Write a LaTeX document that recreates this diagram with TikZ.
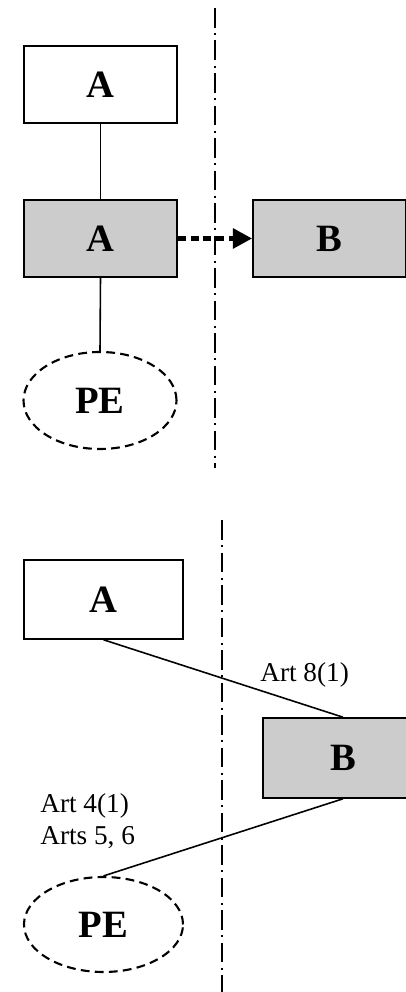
\documentclass[tikz,border=0pt]{standalone}
\usepackage{fontspec}
\setmainfont{Liberation Serif}
\usetikzlibrary{arrows.meta,shapes.geometric}

\tikzset{
  party/.style={draw,line width=0.9pt,minimum width=3.06cm,minimum height=1.54cm,
    font=\fontsize{22}{24}\selectfont\bfseries,inner sep=0pt},
  hostbox/.style={party,fill=black!20},
  pebox/.style={ellipse,draw,dashed,dash pattern=on 5pt off 3pt,line width=1.2pt,
    minimum width=3.06cm,minimum height=1.94cm,font=\fontsize{22}{24}\selectfont\bfseries,inner sep=0pt},
  border/.style={line width=1.4pt,dash pattern=on 11.3pt off 3pt on 1.2pt off 3pt},
  link/.style={line width=0.9pt},
  artlabel/.style={font=\fontsize{15.5}{18.5}\selectfont,align=left,inner sep=0pt}
}

\begin{document}
\begin{tikzpicture}
\useasboundingbox (0,0) rectangle (8.1,19.84);
% upper case: PE of A in its own state
\draw[border] (4.30,19.68) -- (4.30,10.48);
\node[party] (a1) at (2.01,18.15) {A};
\node[hostbox] (a2) at (2.01,15.07) {A};
\node[hostbox] (b1) at (6.59,15.07) {B};
\node[pebox] (pe1) at (2.00,11.83) {PE};
\draw[link] (a1) -- (a2);
\draw[link] (a2.south) -- (pe1.north);
\draw[line width=3pt,dash pattern=on 4.5pt off 2.8pt,-{Triangle[length=11pt,width=11pt]}] (a2.east) -- (b1.west);
% lower case: PE of A in state B
\draw[border] (4.44,9.44) -- (4.44,0);
\node[party,minimum width=3.18cm,minimum height=1.58cm] (a3) at (2.07,7.85) {A};
\node[hostbox,minimum width=3.2cm,minimum height=1.6cm] (b2) at (6.86,4.68) {B};
\node[pebox,minimum width=3.18cm,minimum height=1.9cm] (pe2) at (2.07,1.35) {PE};
\draw[link] (a3.south) -- (b2.north);
\draw[link] (b2.south) -- (pe2.north);
\node[artlabel,anchor=west] (art8) at (5.2,6.34) {Art 8(1)};
\node[artlabel,anchor=west] (art4) at (0.8,3.42) {Art 4(1)\\Arts 5, 6};
\end{tikzpicture}
\end{document}
